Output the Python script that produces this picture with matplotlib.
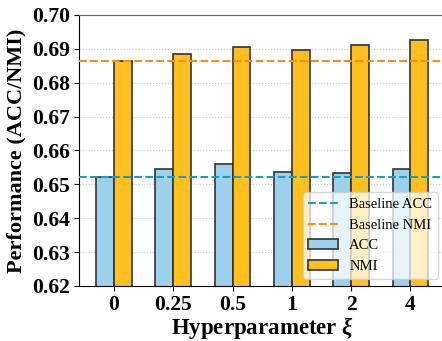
import numpy as np
import matplotlib.pyplot as plt

plt.rcParams['font.family'] = ['Liberation Serif', 'DejaVu Serif']
plt.rcParams['mathtext.fontset'] = 'custom'
plt.rcParams['mathtext.it'] = 'Liberation Serif:italic:bold'
plt.rcParams['mathtext.rm'] = 'Liberation Serif:bold'

xi_labels = ['0', '0.25', '0.5', '1', '2', '4']
acc = [0.6523, 0.6544, 0.6559, 0.6536, 0.6533, 0.6545]
nmi = [0.6864, 0.6886, 0.6906, 0.6895, 0.6912, 0.6925]
baseline_acc = 0.6523
baseline_nmi = 0.6863

x = np.arange(len(xi_labels))
w = 0.3

fig = plt.figure(figsize=(4.42, 3.41), dpi=100)
ax = fig.add_axes([0.1787, 0.1613, 0.829, 0.795])

ax.axhline(baseline_acc, color='#1a9fc4', linestyle='--', linewidth=1.5, label='Baseline ACC', zorder=3)
ax.axhline(baseline_nmi, color='#ff8c1a', linestyle='--', linewidth=1.5, label='Baseline NMI', zorder=3)
ax.bar(x - w / 2, acc, w, color='#9dd0ea', edgecolor='#333333', linewidth=1.2, label='ACC', zorder=2)
ax.bar(x + w / 2, nmi, w, color='#ffbf1f', edgecolor='#333333', linewidth=1.2, label='NMI', zorder=2)

ax.set_ylim(0.62, 0.70)
ax.set_xlim(-0.59, 5.59)
yt = np.arange(0.62, 0.7001, 0.01)
ax.set_yticks(yt)
ax.set_yticklabels([f'{v:.2f}' for v in yt])
ax.set_xticks(x)
ax.set_xticklabels(xi_labels)
ax.tick_params(labelsize=15.5, pad=3)
for lab in ax.get_xticklabels() + ax.get_yticklabels():
    lab.set_fontweight('bold')

ax.set_xlabel(r'Hyperparameter $\xi$', fontsize=16.5, fontweight='bold', labelpad=0)
ax.set_ylabel('Performance (ACC/NMI)', fontsize=16, fontweight='bold', labelpad=4)

ax.yaxis.grid(True, linestyle=':', color='#cccccc', linewidth=0.8, zorder=0)
ax.set_axisbelow(True)
ax.spines['top'].set_color('#666666')
ax.spines['right'].set_visible(False)

ax.legend(loc='lower right', fontsize=10.5, framealpha=0.75, labelspacing=0.5)

fig.savefig('out.png', dpi=100)
